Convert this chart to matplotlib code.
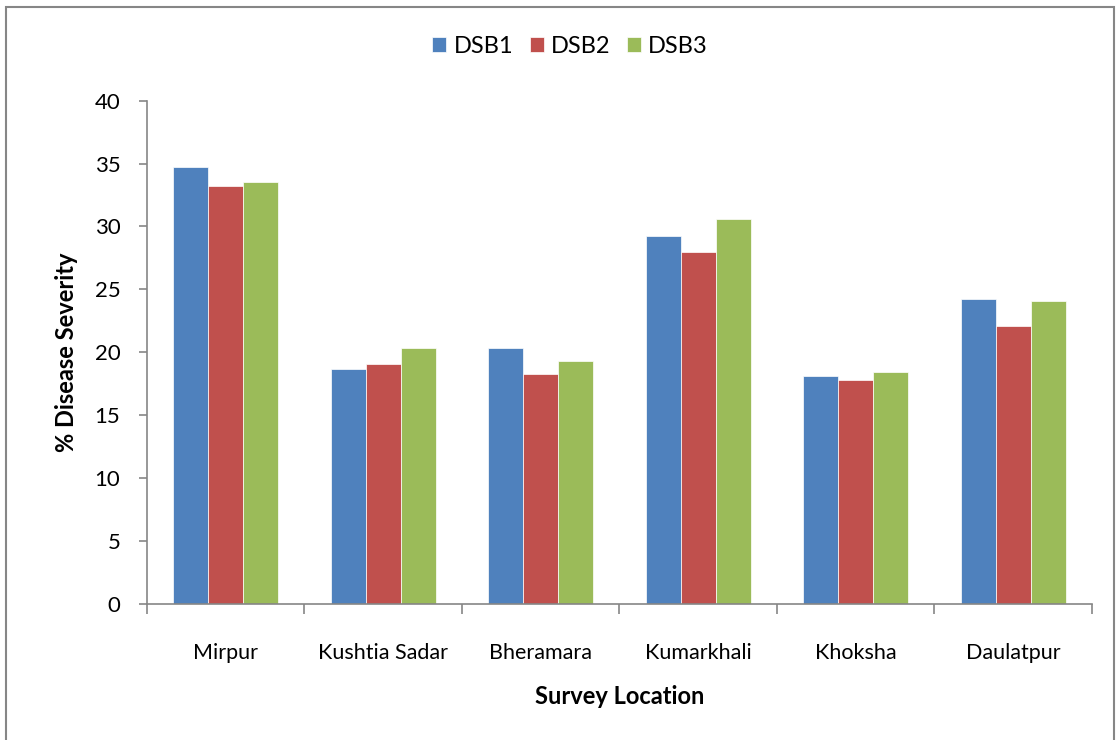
import numpy as np
import matplotlib
matplotlib.use("Agg")
import matplotlib.pyplot as plt
from matplotlib.patches import Rectangle

plt.rcParams["font.family"] = ["Lato", "DejaVu Sans"]

locations = ["Mirpur", "Kushtia Sadar", "Bheramara", "Kumarkhali", "Khoksha", "Daulatpur"]
dsb1 = [34.75, 18.65, 20.35, 29.25, 18.1, 24.2]
dsb2 = [33.25, 19.1, 18.3, 27.95, 17.8, 22.1]
dsb3 = [33.55, 20.35, 19.3, 30.6, 18.4, 24.1]
series = ["DSB1", "DSB2", "DSB3"]
colors = ["#4F81BD", "#C0504D", "#9BBB59"]

fig = plt.figure(figsize=(11.2, 7.4), dpi=100)
ax = fig.add_axes([0.131, 0.184, 0.844, 0.68])

x = np.arange(len(locations))
w = 0.222
for i, (vals, name, c) in enumerate(zip([dsb1, dsb2, dsb3], series, colors)):
    ax.bar(x + (i - 1) * w, vals, w, color=c, label=name, edgecolor="white", linewidth=0.5)

ax.set_xlim(-0.5, len(locations) - 0.5)
ax.set_ylim(0, 40)
ax.set_yticks(np.arange(0, 41, 5))

# category labels at centres, tick marks at boundaries
ax.set_xticks(x)
ax.set_xticklabels(locations, fontsize=15.5)
ax.tick_params(axis="x", which="major", length=0, pad=28)
ax.set_xticks(np.arange(-0.5, len(locations), 1), minor=True)
ax.tick_params(axis="x", which="minor", length=7, color="#868686", width=1.2)
ax.tick_params(axis="y", length=6, color="#868686", width=1.2, labelsize=16, pad=13)

for s in ["top", "right"]:
    ax.spines[s].set_visible(False)
for s in ["left", "bottom"]:
    ax.spines[s].set_color("#868686")
    ax.spines[s].set_linewidth(1.2)

ax.set_ylabel("% Disease Severity", fontsize=17, fontweight="bold", labelpad=12)
ax.set_xlabel("Survey Location", fontsize=17, fontweight="bold", labelpad=16)

fig.legend(loc="center", bbox_to_anchor=(0.509, 0.937), ncol=3, frameon=False,
           fontsize=17, handlelength=0.6, handleheight=0.6, handletextpad=0.3,
           columnspacing=0.7)

fig.patches.append(Rectangle((0.005, -0.01), 0.99, 1.0, transform=fig.transFigure,
                             fill=False, edgecolor="#868686", linewidth=1.5))

fig.savefig("out.png", dpi=100)
